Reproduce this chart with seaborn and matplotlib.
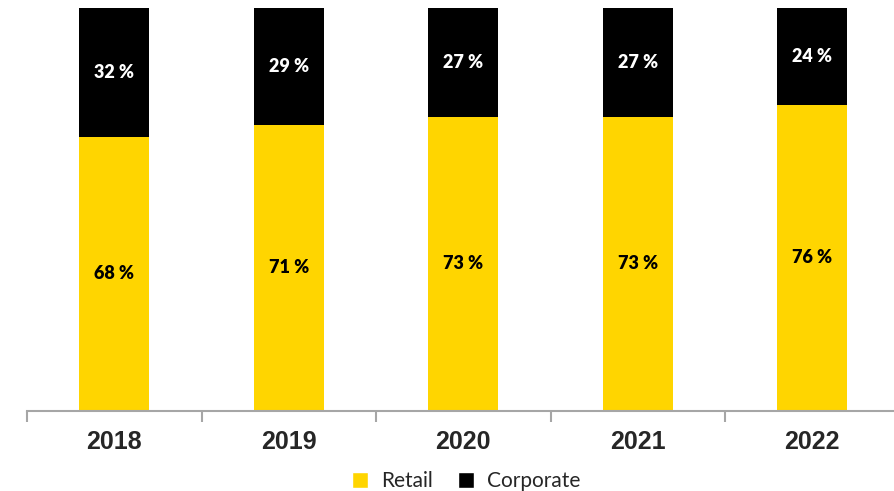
import matplotlib
matplotlib.use("Agg")
import matplotlib.pyplot as plt
import seaborn as sns
import pandas as pd
import numpy as np
from matplotlib.patches import Patch

years = ["2018", "2019", "2020", "2021", "2022"]
retail = [68, 71, 73, 73, 76]
corporate = [32, 29, 27, 27, 24]

YELLOW = "#FFD500"
BLACK = "#000000"

sns.set_theme(style="white")
plt.rcParams["font.family"] = ["Lato", "DejaVu Sans"]

df = pd.DataFrame({"year": years, "retail": retail, "corporate": corporate})
df["total"] = df["retail"] + df["corporate"]

fig = plt.figure(figsize=(8.94, 4.91), dpi=100)
ax = fig.add_axes([27 / 894, 80 / 491, 872.5 / 894, 403 / 491])

# stacked bars: total in black, retail share on top of it in yellow
sns.barplot(data=df, x="year", y="total", color=BLACK, width=0.40,
            saturation=1, ax=ax, linewidth=0)
sns.barplot(data=df, x="year", y="retail", color=YELLOW, width=0.40,
            saturation=1, ax=ax, linewidth=0)

for i, (r, c) in enumerate(zip(retail, corporate)):
    ax.text(i, r / 2, f"{r} %", ha="center", va="center",
            fontsize=13, fontweight="heavy", color="black")
    ax.text(i, r + c / 2, f"{c} %", ha="center", va="center",
            fontsize=13, fontweight="heavy", color="white")

ax.set_xlim(-0.5, len(years) - 0.5)
ax.set_ylim(0, 100)
ax.set_xlabel("")
ax.set_ylabel("")
ax.set_yticks([])
for side in ["top", "right", "left"]:
    ax.spines[side].set_visible(False)
ax.spines["bottom"].set_color("#a6a6a6")
ax.spines["bottom"].set_linewidth(1.5)

# category labels centred, tick marks at category boundaries
ax.set_xticks(np.arange(len(years)))
ax.set_xticklabels(years, fontsize=18, fontweight="bold",
                   family=["Liberation Sans", "DejaVu Sans"])
ax.tick_params(axis="x", which="major", length=0, pad=14)
ax.set_xticks(np.arange(-0.5, len(years)), minor=True)
ax.tick_params(axis="x", which="minor", direction="out", length=8,
               width=1.5, color="#a6a6a6", bottom=True)

handles = [Patch(facecolor=YELLOW, label="Retail"),
           Patch(facecolor=BLACK, label="Corporate")]
fig.legend(handles=handles, loc="center", bbox_to_anchor=(466 / 894, 1 - 481 / 491),
           ncol=2, frameon=False, fontsize=15, handlelength=0.8, handleheight=0.8,
           handletextpad=0.6, columnspacing=1.2)

fig.savefig("out.png", dpi=100)
